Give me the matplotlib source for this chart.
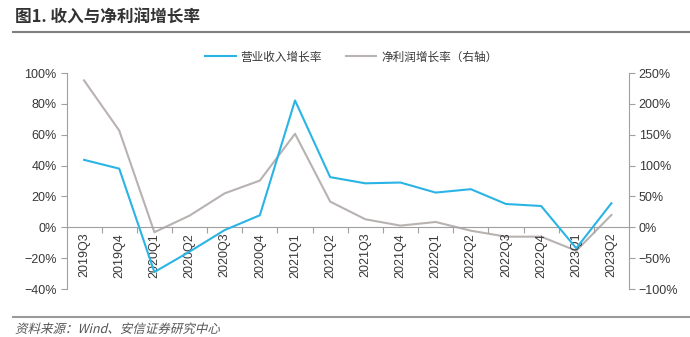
#!/usr/bin/env python3
"""
收入与净利润增长率 chart
"""

import matplotlib
matplotlib.use('Agg')
import matplotlib.pyplot as plt
import matplotlib.transforms as mtransforms
from matplotlib.lines import Line2D
from matplotlib.textpath import TextPath
from matplotlib.patches import PathPatch
from matplotlib.font_manager import FontProperties
from matplotlib.ticker import FixedLocator, FuncFormatter

plt.rcParams['font.family'] = ['Liberation Sans', 'Noto Sans CJK SC', 'DejaVu Sans']

# Data
quarters = ['2019Q3', '2019Q4', '2020Q1', '2020Q2', '2020Q3', '2020Q4',
            '2021Q1', '2021Q2', '2021Q3', '2021Q4', '2022Q1', '2022Q2',
            '2022Q3', '2022Q4', '2023Q1', '2023Q2']
revenue_growth = [43.7, 38.0, -29.0, -15.8, -1.8, 7.8, 82.2, 32.5,
                  28.5, 29.0, 22.5, 24.7, 15.1, 13.8, -13.6, 15.6]
profit_growth = [238.0, 156.8, -8.0, 18.9, 55.0, 75.7, 151.5, 41.6,
                 13.0, 2.7, 8.6, -5.5, -15.2, -15.2, -38.0, 20.0]

BLUE = '#2ab4e6'
GRAY = '#b8b2b1'
AXIS = '#a0a0a0'
TEXT = '#383838'
CJK = ['Noto Sans CJK SC', 'DejaVu Sans']

W, H = 690, 337
fig = plt.figure(figsize=(W / 100, H / 100), dpi=100)
ax = fig.add_axes([66.5 / W, 1 - 289 / H, (629 - 66.5) / W, (289 - 73) / H])
ax2 = ax.twinx()

x = list(range(len(quarters)))
ax.plot(x, revenue_growth, color=BLUE, linewidth=1.5, zorder=3)
ax2.plot(x, profit_growth, color=GRAY, linewidth=1.5, zorder=2)
ax.set_zorder(ax2.get_zorder() + 1)
ax.patch.set_visible(False)

ax.set_xlim(-0.5, len(quarters) - 0.5)
ax.set_ylim(-40, 100)
ax.set_yticks(range(-40, 101, 20))
ax2.set_ylim(-100, 250)
ax2.set_yticks(range(-100, 251, 50))

pct = FuncFormatter(lambda v, p: f'{v:.0f}%'.replace('-', '\u2212'))
ax.yaxis.set_major_formatter(pct)
ax2.yaxis.set_major_formatter(pct)

# x axis sits on the zero line, ticks between categories
ax.spines['bottom'].set_position(('data', 0))
ax.set_xticks(x)
ax.set_xticklabels(quarters, rotation=90, fontsize=9, color=TEXT)
ax.tick_params(axis='x', which='major', length=0, pad=4)
ax.xaxis.set_minor_locator(FixedLocator([i + 0.5 for i in x[:-1]]))
ax.tick_params(axis='x', which='minor', length=4, color=AXIS, width=0.8)

for a in (ax, ax2):
    for s in a.spines.values():
        s.set_color(AXIS)
        s.set_linewidth(0.8)
    a.spines['top'].set_visible(False)
ax.spines['right'].set_visible(False)
ax2.spines['left'].set_visible(False)
ax2.spines['bottom'].set_visible(False)

ax.tick_params(axis='y', length=4, color=AXIS, width=0.8, labelsize=9, labelcolor=TEXT, pad=3)
ax2.tick_params(axis='y', length=4, color=AXIS, width=0.8, labelsize=9, labelcolor=TEXT, pad=3)

# legend
handles = [Line2D([], [], color=BLUE, linewidth=1.5),
           Line2D([], [], color=GRAY, linewidth=1.5)]
fig.legend(handles, ['营业收入增长率', '净利润增长率（右轴）'],
           loc='center', bbox_to_anchor=(351 / W, 1 - 57 / H), ncol=2,
           frameon=False, handlelength=2.65, handletextpad=0.4, columnspacing=2.05,
           prop={'family': CJK, 'size': 8.4})
for t in fig.legends[0].get_texts():
    t.set_color(TEXT)

# title and separator lines
fig.text(15 / W, 1 - 18 / H, '图1. 收入与净利润增长率', fontsize=12, fontweight='bold',
         family=CJK, color='#333333', va='center', ha='left')
fig.add_artist(Line2D([13 / W, 1], [1 - 32 / H, 1 - 32 / H], color='#808080', linewidth=1.5))
fig.add_artist(Line2D([13 / W, 689 / W], [1 - 317 / H, 1 - 317 / H], color='#9a9a9a', linewidth=1.5))

# italic-looking source note (skewed text path)
src = '资料来源：Wind、安信证券研究中心'
tp = TextPath((0, 0), src, size=9, prop=FontProperties(family='Noto Sans CJK SC'))
tr = (mtransforms.Affine2D().skew_deg(14, 0).scale(1 / 72)
      .translate(15 / 100, (H - 333) / 100) + fig.dpi_scale_trans)
fig.add_artist(PathPatch(tp, transform=tr, facecolor='#555555', edgecolor='none'))

fig.savefig('out.png', dpi=100)
plt.close(fig)
